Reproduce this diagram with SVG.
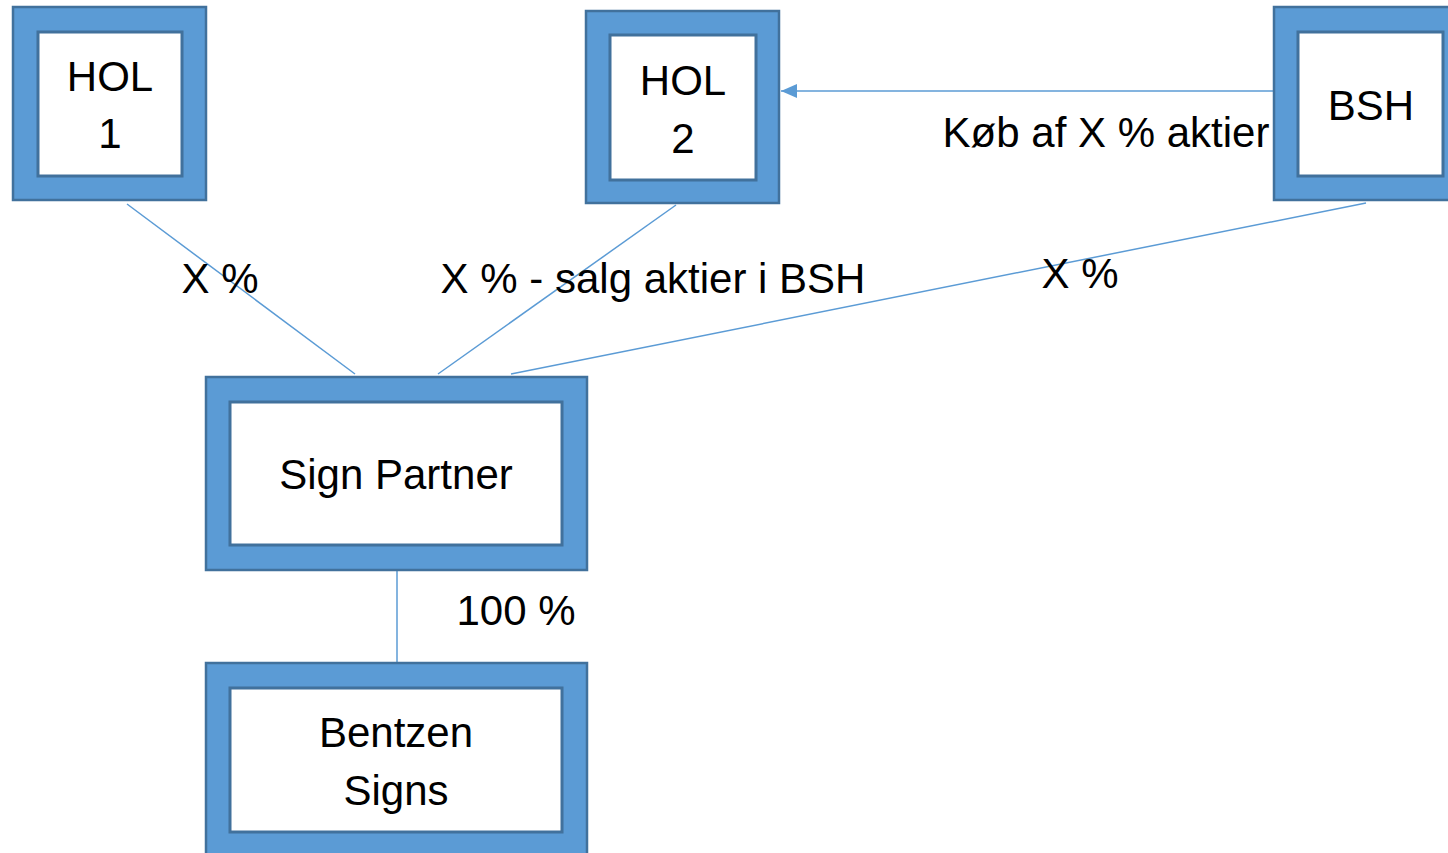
<svg xmlns="http://www.w3.org/2000/svg" width="1448" height="853" viewBox="0 0 1448 853">
<style>
.outer{fill:#5B9BD5;stroke:#41719C;stroke-width:2.5}
.inner{fill:#FFFFFF;stroke:#41719C;stroke-width:3}
.t{font-family:"Liberation Sans",Arial,sans-serif;font-size:42px;fill:#000;text-anchor:middle}
.c{stroke:#5B9BD5;stroke-width:1.5;fill:none}
</style>
<defs>
<marker id="ah" markerWidth="16" markerHeight="14" refX="16" refY="7" orient="auto" markerUnits="userSpaceOnUse">
<path d="M0,0 L16,7 L0,14 Z" fill="#5B9BD5"/>
</marker>
</defs>
<rect width="1448" height="853" fill="#FFFFFF"/>
<g id="connectors">
<line class="c" x1="127" y1="204" x2="355" y2="374"/>
<line class="c" x1="676" y1="205" x2="438" y2="374"/>
<line class="c" x1="1366" y1="203" x2="511" y2="374"/>
<line class="c" x1="397" y1="571" x2="397" y2="662"/>
<line class="c" x1="1274" y1="91" x2="781" y2="91" marker-end="url(#ah)"/>
<text class="t" x="220" y="293">X %</text>
<text class="t" x="653" y="293">X % - salg aktier i BSH</text>
<text class="t" x="1080" y="288">X %</text>
<text class="t" x="1106" y="147">Køb af X % aktier</text>
<text class="t" x="516" y="625">100 %</text>
</g>
<g id="hol1">
<rect class="outer" x="13" y="7" width="193" height="193"/>
<rect class="inner" x="38" y="32" width="144" height="144"/>
<text class="t" x="110" y="91">HOL</text>
<text class="t" x="110" y="148">1</text>
</g>
<g id="hol2">
<rect class="outer" x="586" y="11" width="193" height="192"/>
<rect class="inner" x="610" y="35" width="146" height="145"/>
<text class="t" x="683" y="95">HOL</text>
<text class="t" x="683" y="153">2</text>
</g>
<g id="bsh">
<rect class="outer" x="1274" y="7" width="193" height="193"/>
<rect class="inner" x="1298" y="32" width="145" height="144"/>
<text class="t" x="1371" y="120">BSH</text>
</g>
<g id="sign-partner">
<rect class="outer" x="206" y="377" width="381" height="193"/>
<rect class="inner" x="230" y="402" width="332" height="143"/>
<text class="t" x="396" y="489">Sign Partner</text>
</g>
<g id="bentzen-signs">
<rect class="outer" x="206" y="663" width="381" height="194"/>
<rect class="inner" x="230" y="688" width="332" height="144"/>
<text class="t" x="396" y="747">Bentzen</text>
<text class="t" x="396" y="805">Signs</text>
</g>
</svg>
